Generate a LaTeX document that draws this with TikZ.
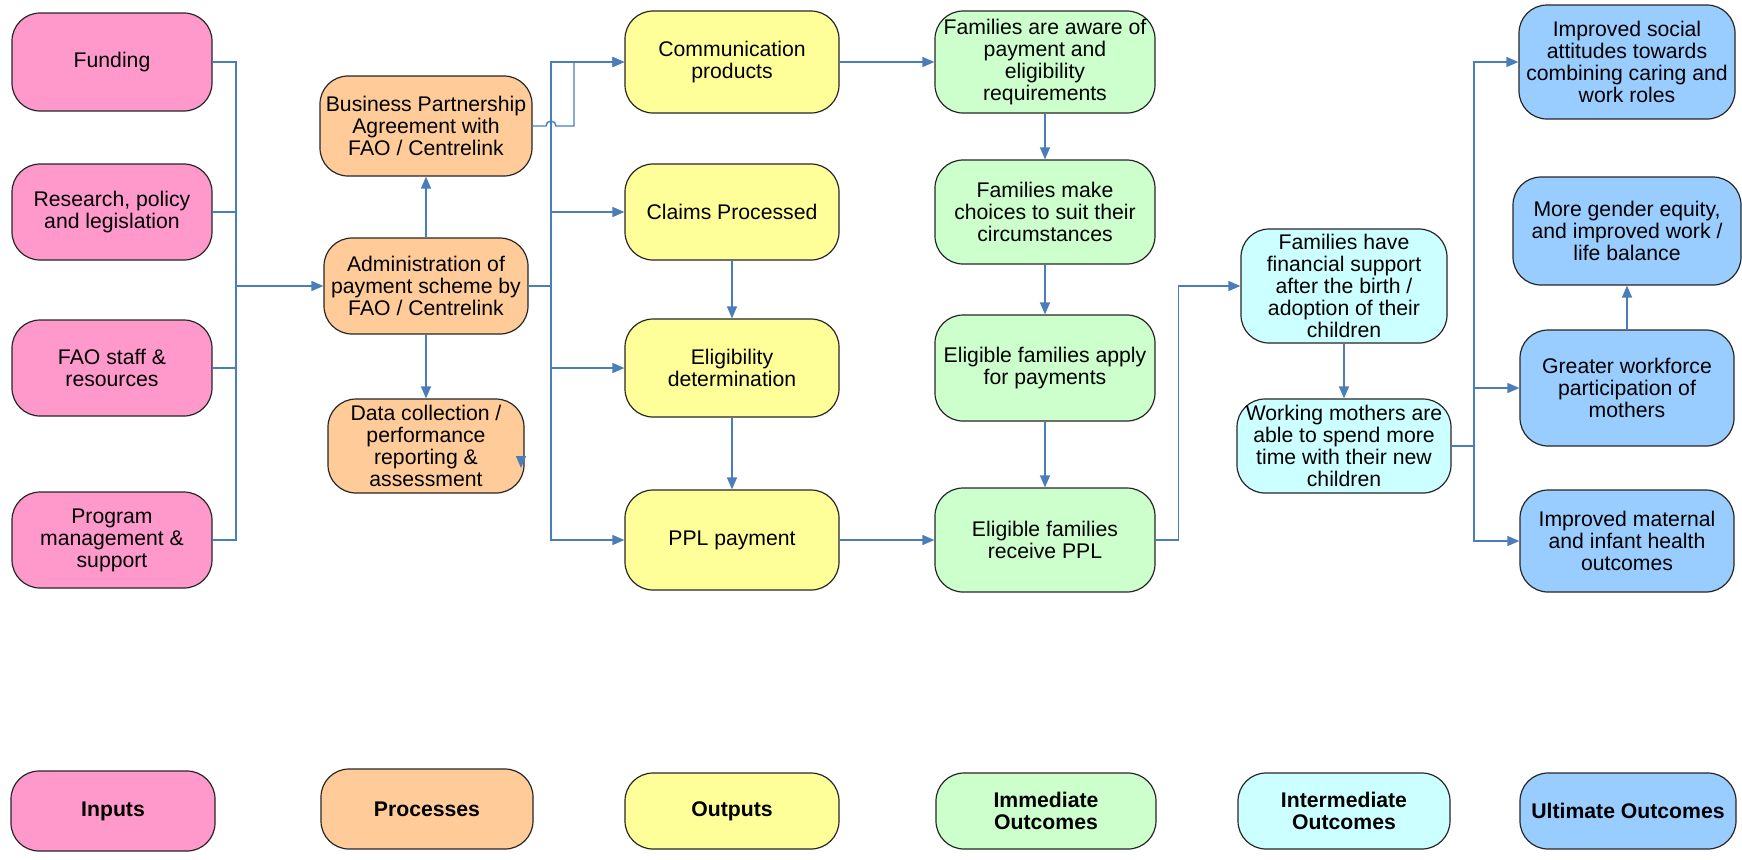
\documentclass[tikz,border=0pt]{standalone}
\usepackage{fontspec}
\setmainfont{Liberation Sans}
\usepackage{xcolor}
\usetikzlibrary{arrows.meta}
\definecolor{inpink}{HTML}{FF99CC}
\definecolor{procorange}{HTML}{FFCC99}
\definecolor{outyellow}{HTML}{FFFF99}
\definecolor{immgreen}{HTML}{CCFFCC}
\definecolor{intcyan}{HTML}{CCFFFF}
\definecolor{ultblue}{HTML}{99CCFF}
\definecolor{lineblue}{HTML}{4A7EBB}

\begin{document}
\begin{tikzpicture}[x=0.5pt, y=-0.5pt, >={Triangle[length=6pt,width=5pt]},
  box/.style={draw=black!85, line width=0.6pt, rounded corners=14pt, align=center,
    inner sep=1pt, font=\fontsize{10.6}{11}\selectfont},
  inbox/.style={box, fill=inpink, minimum width=100pt, minimum height=48pt},
  procbox/.style={box, fill=procorange, minimum width=104pt, minimum height=48pt},
  outbox/.style={box, fill=outyellow, minimum width=107pt, minimum height=50pt},
  immbox/.style={box, fill=immgreen, minimum width=110pt, minimum height=52pt},
  intbox/.style={box, fill=intcyan, minimum width=106pt, minimum height=48pt},
  ultbox/.style={box, fill=ultblue, minimum width=107pt, minimum height=54pt},
  legend/.style={minimum height=38pt, font=\fontsize{10.6}{11}\selectfont\bfseries},
  conn/.style={draw=lineblue, line width=0.7pt}]
  \useasboundingbox (0,0) rectangle (1742,859);

  % inputs
  \node[inbox, minimum height=49pt] (fund) at (112,62) {Funding};
  \node[inbox] (research) at (112,212) {Research, policy\\and legislation};
  \node[inbox] (staff) at (112,368) {FAO staff \&\\resources};
  \node[inbox] (program) at (112,540) {Program\\management \&\\support};

  % processes
  \node[procbox, minimum width=106pt, minimum height=50pt] (bpa) at (426,126) {Business Partnership\\Agreement with\\FAO / Centrelink};
  \node[procbox, minimum width=102pt] (admin) at (426,286) {Administration of\\payment scheme by\\FAO / Centrelink};
  \node[procbox, minimum width=98pt, minimum height=47pt] (data) at (426,446) {Data collection /\\performance\\reporting \&\\assessment};

  % outputs
  \node[outbox, minimum height=51pt] (comm) at (732,62) {Communication\\products};
  \node[outbox, minimum height=48pt] (claims) at (732,212) {Claims Processed};
  \node[outbox, minimum height=49pt] (elig) at (732,368) {Eligibility\\determination};
  \node[outbox] (ppl) at (732,540) {PPL payment};

  % immediate outcomes
  \node[immbox, minimum height=51pt] (aware) at (1045,62) {Families are aware of\\payment and\\eligibility\\requirements};
  \node[immbox] (choices) at (1045,212) {Families make\\choices to suit their\\circumstances};
  \node[immbox, minimum height=53pt] (apply) at (1045,368) {Eligible families apply\\for payments};
  \node[immbox] (receive) at (1045,540) {Eligible families\\receive PPL};

  % intermediate outcomes
  \node[intbox, minimum width=103pt, minimum height=57pt] (support) at (1344,286) {Families have\\financial support\\after the birth /\\adoption of their\\children};
  \node[intbox, minimum width=107pt, minimum height=47pt] (mothers) at (1344,446) {Working mothers are\\able to spend more\\time with their new\\children};

  % ultimate outcomes
  \node[ultbox, minimum width=108pt, minimum height=57pt] (social) at (1627,62) {Improved social\\attitudes towards\\combining caring and\\work roles};
  \node[ultbox, minimum width=114pt] (gender) at (1627,231) {More gender equity,\\and improved work /\\life balance};
  \node[ultbox, minimum height=58pt] (workforce) at (1627,388) {Greater workforce\\participation of\\mothers};
  \node[ultbox, minimum height=51pt] (health) at (1627,541) {Improved maternal\\and infant health\\outcomes};

  % legend row
  \node[inbox, legend, minimum width=102pt, minimum height=40pt] (lin) at (113,811) {Inputs};
  \node[procbox, legend, minimum width=106pt, minimum height=40pt] (lproc) at (427,809) {Processes};
  \node[outbox, legend] (lout) at (732,811) {Outputs};
  \node[immbox, legend] (limm) at (1046,811) {Immediate\\Outcomes};
  \node[intbox, legend] (lint) at (1344,811) {Intermediate\\Outcomes};
  \node[ultbox, legend, minimum width=108pt] (lult) at (1628,811) {Ultimate Outcomes};

  % connectors
  \coordinate (inbus) at (236,286);
  \coordinate (obus) at (551,286);
  \coordinate (ubus) at (1474,446);
  \coordinate (datatip) at (521,468);

  \draw[conn] (fund.east) -| (inbus);
  \draw[conn] (research.east) -| (inbus);
  \draw[conn] (staff.east) -| (inbus);
  \draw[conn] (program.east) -| (inbus);
  \draw[conn,->] (inbus) -- (admin.west);

  \draw[conn,->] (admin.north) -- (bpa.south);
  \draw[conn,->] (admin.south) -- (data.north);
  \draw[conn,->] (datatip) ++(0,-11) -- (datatip);

  \draw[conn] (admin.east) -- (obus);
  \draw[conn,->] (obus) |- (comm.west);
  \draw[conn,->] (obus) |- (claims.west);
  \draw[conn,->] (obus) |- (elig.west);
  \draw[conn,->] (obus) |- (ppl.west);
  \draw[conn,->] (bpa.east) -- (546,126) arc[start angle=180, end angle=360, radius=5]
    -- (574,126) |- (comm.west);

  \draw[conn,->] (claims.south) -- (elig.north);
  \draw[conn,->] (elig.south) -- (ppl.north);
  \draw[conn,->] (comm.east) -- (aware.west);
  \draw[conn,->] (ppl.east) -- (receive.west);

  \draw[conn,->] (aware.south) -- (choices.north);
  \draw[conn,->] (choices.south) -- (apply.north);
  \draw[conn,->] (apply.south) -- (receive.north);
  \draw[conn,->] (receive.east) -- ++(23,0) |- (support.west);

  \draw[conn,->] (support.south) -- (mothers.north);
  \draw[conn] (mothers.east) -- (ubus);
  \draw[conn,->] (ubus) |- (social.west);
  \draw[conn,->] (ubus) |- (workforce.west);
  \draw[conn,->] (ubus) |- (health.west);
  \draw[conn,->] (workforce.north) -- (gender.south);
\end{tikzpicture}
\end{document}
